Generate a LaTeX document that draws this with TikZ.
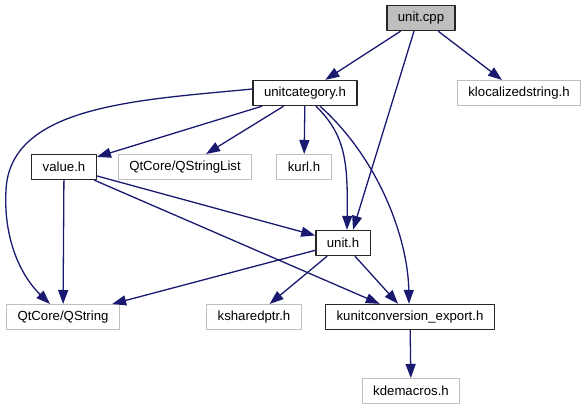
\documentclass[tikz,border=0pt]{standalone}
\usepackage{fontspec}
\setsansfont{Liberation Sans}
\usetikzlibrary{arrows.meta}
\definecolor{dxedge}{RGB}{25,25,112}
\definecolor{dxgrey}{RGB}{191,191,191}
\tikzset{
  dxbox/.style={
    draw, fill=white, inner xsep=11pt, inner ysep=0pt,
    minimum height=25pt, font=\sffamily\fontsize{13.2}{15}\selectfont
  },
  inc/.style={dxbox, draw=black!85, line width=1.3pt},
  ext/.style={dxbox, draw=dxgrey, line width=1pt},
  cur/.style={dxbox, draw=black!85, fill=dxgrey, line width=1.3pt},
  dep/.style={-{Triangle[length=14pt,width=10pt]}, draw=dxedge, line width=1.3pt},
  every picture/.append style={line join=round}
}
\begin{document}
\begin{tikzpicture}[x=1pt, y=-1pt]
  \useasboundingbox (0,0) rectangle (586,411);
  \node[cur] (ucpp) at (421,18) {unit.cpp};
  \node[inc] (ucat) at (305,93) {unitcategory.h};
  \node[ext] (kloc) at (519,93) {klocalizedstring.h};
  \node[inc] (valh) at (64,167) {value.h};
  \node[ext] (qsl) at (185,167) {QtCore/QStringList};
  \node[ext] (kurl) at (304,167) {kurl.h};
  \node[inc] (unith) at (343,243) {unit.h};
  \node[ext] (qstr) at (63,317) {QtCore/QString};
  \node[ext] (kshp) at (254,317) {ksharedptr.h};
  \node[inc] (kexp) at (410,317) {kunitconversion\_export.h};
  \node[ext] (kdem) at (411,391) {kdemacros.h};

  \draw[dep] (ucpp) -- (ucat);
  \draw[dep] ([xshift=-7pt]ucpp.south) -- ([xshift=10pt]unith.north);
  \draw[dep] (ucpp) -- (kloc);
  \draw[dep] (ucat) -- (valh);
  \draw[dep] (ucat) -- (qsl);
  \draw[dep] (ucat) -- (kurl);
  \draw[dep] ([yshift=4pt]ucat.west) .. controls (140,100) and (10,105) .. (6,190)
    .. controls (3,245) and (25,280) .. ([xshift=-13pt]qstr.north);
  \draw[dep] ([xshift=11pt]ucat.south) .. controls (345,135) and (348,160) .. ([xshift=4pt]unith.north);
  \draw[dep] ([xshift=15pt]ucat.south) .. controls (380,160) and (408,240) .. ([xshift=-1pt]kexp.north);
  \draw[dep] (valh) -- (qstr);
  \draw[dep] (valh) -- (unith);
  \draw[dep] (valh) -- (kexp);
  \draw[dep] (unith) -- (qstr);
  \draw[dep] (unith) -- (kshp);
  \draw[dep] (unith) -- (kexp);
  \draw[dep] (kexp) -- (kdem);
\end{tikzpicture}
\end{document}
